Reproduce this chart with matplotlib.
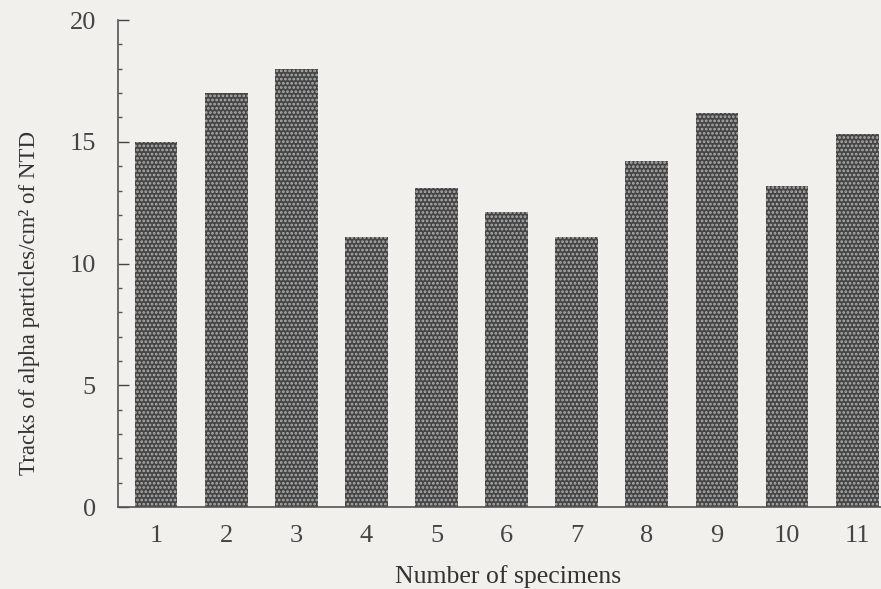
import matplotlib.pyplot as plt
import numpy as np

# specimen numbers and track counts
specimens = [1, 2, 3, 4, 5, 6, 7, 8, 9, 10, 11]
tracks = [15.0, 17.0, 18.0, 11.1, 13.1, 12.1, 11.1, 14.2, 16.2, 13.2, 15.3]

plt.rcParams['font.family'] = ['Liberation Serif', 'DejaVu Serif']
plt.rcParams['hatch.color'] = '#b0b0b0'
plt.rcParams['hatch.linewidth'] = 1.3

fig = plt.figure(figsize=(8.81, 5.89), dpi=100, facecolor='#f1f0ec')
ax = fig.add_axes([0.134, 0.139, 0.866, 0.827])
ax.set_facecolor('#f1f0ec')

ax.bar(specimens, tracks, width=0.61, color='#454545', hatch='....',
       edgecolor='#b0b0b0', linewidth=0)

ax.set_xlim(0.458, 11.34)
ax.set_ylim(0, 20)
ax.set_xticks(specimens)
ax.set_yticks([0, 5, 10, 15, 20])
ax.set_yticks(np.arange(0, 21, 1), minor=True)
ax.tick_params(axis='x', length=0, pad=13, labelsize=19, colors='#444444')
ax.tick_params(axis='y', which='major', direction='in', length=8, width=1,
               pad=16, labelsize=19, colors='#444444')
ax.tick_params(axis='y', which='minor', direction='in', length=3, width=1,
               colors='#555555')

for s in ['top', 'right']:
    ax.spines[s].set_visible(False)
for s in ['left', 'bottom']:
    ax.spines[s].set_color('#555555')
    ax.spines[s].set_linewidth(1.2)

ax.set_xlabel('Number of specimens', fontsize=18.5, color='#333333')
ax.xaxis.set_label_coords(0.511, -0.118)
ax.set_ylabel('Tracks of alpha particles/cm² of NTD', fontsize=16.5,
              color='#333333')
ax.yaxis.set_label_coords(-0.102, 0.42)

fig.savefig('out.png', dpi=100, facecolor=fig.get_facecolor())
